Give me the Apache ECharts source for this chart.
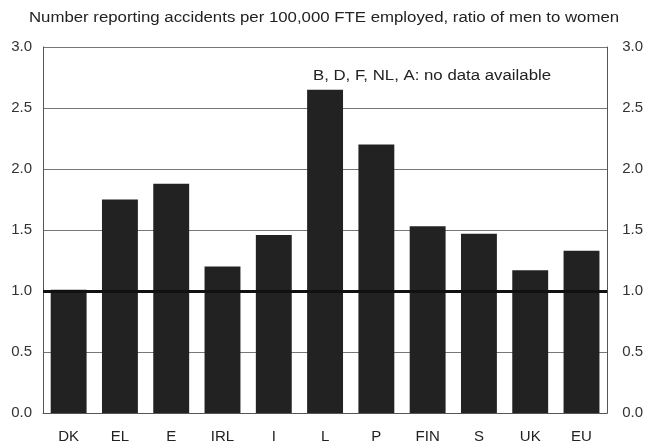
<!DOCTYPE html>
<html>
<head>
<meta charset="utf-8">
<script src="https://cdn.jsdelivr.net/npm/echarts@6/dist/echarts.min.js"></script>
<style>
  html, body { margin: 0; padding: 0; background: #fff; }
  #chart { width: 646px; height: 444px; }
</style>
</head>
<body>
<div id="chart"></div>
<script>
// accidents ratio men/women by country
const countries = ['DK', 'EL', 'E', 'IRL', 'I', 'L', 'P', 'FIN', 'S', 'UK', 'EU'];
const ratios = [1.01, 1.75, 1.88, 1.20, 1.46, 2.65, 2.20, 1.53, 1.47, 1.17, 1.33];
const yTicks = [0, 0.5, 1.0, 1.5, 2.0, 2.5, 3.0];

const chart = echarts.init(document.getElementById('chart'));
const font = 'Liberation Sans, Arial, sans-serif';

function yAxisDef(pos) {
  return {
    type: 'value', position: pos, min: 0, max: 3, interval: 0.5,
    axisLine: { show: true, lineStyle: { color: '#555', width: 1 } },
    axisTick: { show: false },
    splitLine: { show: pos === 'left', lineStyle: { color: '#777', width: 1 } },
    axisLabel: {
      color: '#333', fontFamily: font, fontSize: 15, margin: pos === 'left' ? 11 : 15,
      formatter: v => yTicks.includes(v) ? v.toFixed(1) : ''
    }
  };
}

// stretched text like the original scan
function wideText(x, y, text) {
  return {
    type: 'text', x: x, y: y, scaleX: 1.2, originX: 0, originY: 0,
    style: { text: text, fill: '#222', font: '14px ' + font, textAlign: 'center', textVerticalAlign: 'middle' }
  };
}

chart.setOption({
  animation: false,
  graphic: [
    wideText(324, 18, 'Number reporting accidents per 100,000 FTE employed, ratio of men to women'),
    wideText(432, 76, 'B, D, F, NL, A: no data available')
  ],
  grid: { left: 43, right: 38, top: 47, bottom: 31 },
  xAxis: {
    type: 'category', data: countries,
    axisLine: { lineStyle: { color: '#555' } },
    axisTick: { show: false },
    axisLabel: { color: '#222', fontFamily: font, fontSize: 15, margin: 16 }
  },
  yAxis: [yAxisDef('left'), yAxisDef('right')],
  series: [{
    type: 'bar', data: ratios, barWidth: '70%',
    itemStyle: { color: '#222' },
    markLine: {
      silent: true, symbol: 'none', label: { show: false },
      lineStyle: { color: '#111', width: 3, type: 'solid' },
      data: [{ yAxis: 1.0 }]
    }
  }]
});
</script>
</body>
</html>
